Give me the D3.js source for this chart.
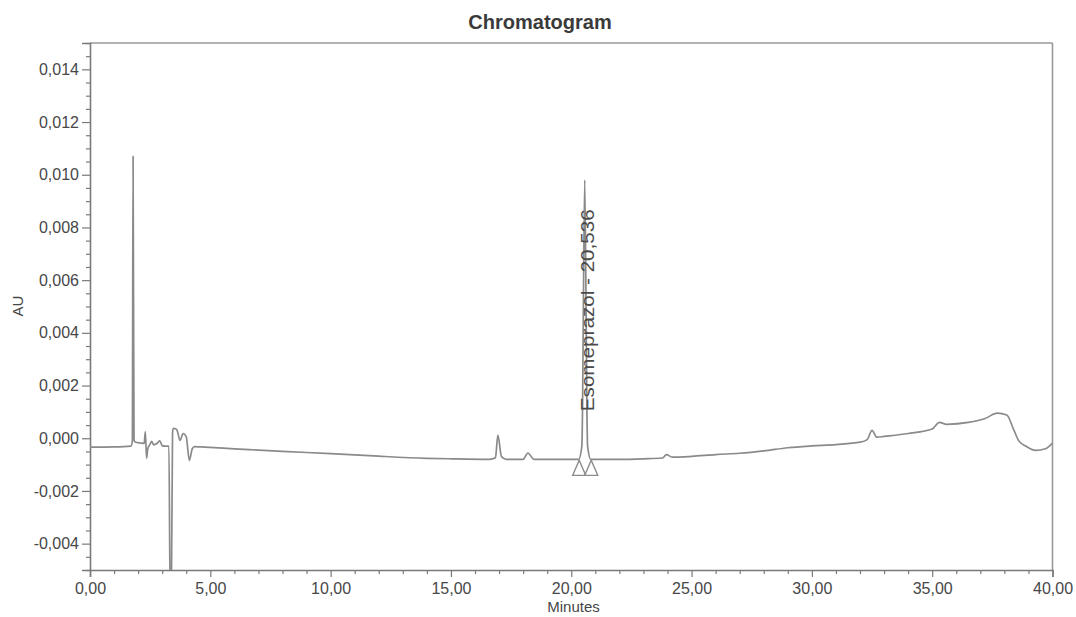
<!DOCTYPE html>
<html>
<head>
<meta charset="utf-8">
<script src="https://cdn.jsdelivr.net/npm/d3@7/dist/d3.min.js"></script>
<style>
  html, body { margin: 0; padding: 0; background: #fff; }
  svg { display: block; font-family: "Liberation Sans", Arial, sans-serif; }
</style>
</head>
<body>
<svg id="chart" width="1076" height="617"></svg>
<script>
// ---- data (time in minutes, absorbance in AU) ----
const chartTitle = "Chromatogram";
const xTitle = "Minutes";
const yTitle = "AU";
const xDomain = [0, 40];
const yDomain = [-0.005, 0.015];
const xMajorTicks = [0, 5, 10, 15, 20, 25, 30, 35, 40];
const yMajorTicks = [-0.004, -0.002, 0, 0.002, 0.004, 0.006, 0.008, 0.010, 0.012, 0.014];

const times = [
  0.00, 1.00, 1.70, 1.76, 1.79, 1.83, 1.90, 2.10, 2.25, 2.30, 2.35, 2.40, 2.50, 2.56, 2.65, 2.80, 2.90, 3.00, 3.10, 3.28,
  3.33, 3.38, 3.43, 3.46, 3.55, 3.62, 3.74, 3.87, 4.00, 4.13, 4.25, 4.35, 4.60, 6.00, 8.00, 10.00, 12.00, 14.00, 15.00, 16.60,
  16.85, 16.95, 17.10, 17.30, 18.00, 18.20, 18.45, 19.00, 20.31, 20.44, 20.47, 20.50, 20.56, 20.62, 20.65, 20.68,
  20.81, 22.00, 23.00, 23.80, 23.95, 24.20, 25.00, 26.00, 27.00, 28.00, 29.00, 30.00, 31.00, 32.00, 32.30, 32.50, 32.70, 33.00, 34.00, 35.00,
  35.30, 35.60, 36.50, 37.20, 37.70, 38.10, 38.40, 38.60, 38.90, 39.30, 39.70, 40.00
];
const absorbance = [
  -0.00034, -0.00033, -0.00030, -0.00010, 0.01070, -0.00008, -0.00015, -0.00018, -0.00020, 0.00025, -0.00076, -0.00040, -0.00022, -0.00012, -0.00025, -0.00018, -0.00010, -0.00028, -0.00030, -0.00030,
  -0.00600, -0.00600, 0.00020, 0.00038, 0.00036, 0.00030, -0.00008, 0.00018, 0.00005, -0.00084, -0.00040, -0.00032, -0.00033, -0.00040, -0.00050, -0.00058, -0.00068, -0.00076, -0.00078, -0.00080,
  -0.00074, 0.00012, -0.00070, -0.00080, -0.00080, -0.00056, -0.00080, -0.00080, -0.00080, -0.00030, 0.00120, 0.00450, 0.00980, 0.00450, 0.00120, -0.00030,
  -0.00080, -0.00080, -0.00078, -0.00075, -0.00062, -0.00072, -0.00069, -0.00062, -0.00057, -0.00048, -0.00036, -0.00029, -0.00024, -0.00015, -0.00005, 0.00030, 0.00004, 0.00007, 0.00018, 0.00035,
  0.00060, 0.00053, 0.00060, 0.00075, 0.00095, 0.00088, 0.00030, -0.00010, -0.00030, -0.00046, -0.00040, -0.00018
];

const peakName = "Esomeprazol - 20,536";
const peakTime = 20.56;
const peakMarkerTimes = [20.33, 20.83];
const peakMarkerLevel = -0.00080;

// ---- layout ----
const svg = d3.select("#chart");
const W = 1076, H = 617;
const margin = { left: 90, top: 43, right: W - 1052.5, bottom: H - 570 };
const x = d3.scaleLinear().domain(xDomain).range([margin.left, W - margin.right]);
const y = d3.scaleLinear().domain(yDomain).range([H - margin.bottom, margin.top]);

const textColor = "#474747";
const axisColor = "#7a7a7a";
const traceColor = "#8a8a8a";

const fmtX = v => d3.format(".2f")(v).replace(".", ",");
const fmtY = v => d3.format(".3f")(v).replace(".", ",").replace("\u2212", "-");

// minor ticks
const xMinor = d3.range(xDomain[0], xDomain[1] + 0.001, 1).filter(v => !xMajorTicks.includes(v));
const yMinor = d3.range(-0.005, 0.01501, 0.0005).map(v => +v.toFixed(4))
  .filter(v => !yMajorTicks.some(m => Math.abs(m - v) < 1e-9));

// frame (top & right)
svg.append("line").attr("x1", x(0)).attr("x2", x(40)).attr("y1", y(0.015)).attr("y2", y(0.015))
  .attr("stroke", "#999").attr("stroke-width", 1.6);
svg.append("line").attr("x1", x(40)).attr("x2", x(40)).attr("y1", y(0.015)).attr("y2", y(-0.005))
  .attr("stroke", "#999").attr("stroke-width", 1.6);

// x axis
const gx = svg.append("g").attr("transform", `translate(0,${y(-0.005)})`);
gx.call(d3.axisBottom(x).tickValues(xMajorTicks).tickSize(7).tickPadding(6).tickFormat(fmtX));
const gxm = svg.append("g").attr("transform", `translate(0,${y(-0.005)})`);
gxm.call(d3.axisBottom(x).tickValues(xMinor).tickSize(4).tickFormat(""));
gxm.select(".domain").remove();

// y axis
const gy = svg.append("g").attr("transform", `translate(${x(0)},0)`);
gy.call(d3.axisLeft(y).tickValues(yMajorTicks).tickSize(8).tickPadding(3).tickFormat(fmtY));
const gym = svg.append("g").attr("transform", `translate(${x(0)},0)`);
gym.call(d3.axisLeft(y).tickValues(yMinor).tickSize(4).tickFormat(""));
gym.select(".domain").remove();

svg.selectAll(".domain").attr("stroke", axisColor).attr("stroke-width", 1.6);
svg.selectAll(".tick line").attr("stroke", axisColor).attr("stroke-width", 1.2);
svg.selectAll(".tick text").attr("fill", textColor).attr("font-size", 16)
  .attr("font-family", "'Liberation Sans', Arial, sans-serif");

// clip
svg.append("clipPath").attr("id", "clip").append("rect")
  .attr("x", x(0)).attr("y", y(0.015)).attr("width", x(40) - x(0)).attr("height", y(-0.005) - y(0.015));

// trace
const pts = times.map((t, i) => [t, absorbance[i]]);
svg.append("path").datum(pts)
  .attr("clip-path", "url(#clip)")
  .attr("fill", "none").attr("stroke", traceColor).attr("stroke-width", 1.7)
  .attr("stroke-linejoin", "round")
  .attr("d", d3.line().curve(d3.curveMonotoneX).x(d => x(d[0])).y(d => y(d[1])));

// peak markers (outlined triangles)
svg.selectAll(".pm").data(peakMarkerTimes).enter().append("path")
  .attr("fill", "none").attr("stroke", "#8a8a8a").attr("stroke-width", 1.4)
  .attr("d", t => {
    const cx = x(t), top = y(peakMarkerLevel) + 1, bot = top + 15;
    return `M${cx},${top}L${cx - 6.5},${bot}L${cx + 6.5},${bot}Z`;
  });

// peak label
svg.append("text")
  .attr("transform", `translate(${x(peakTime) + 9},${y(-0.00015) - 31}) rotate(-90)`)
  .attr("fill", "#4a4a4a").attr("font-size", 18)
  .attr("textLength", 202).attr("lengthAdjust", "spacingAndGlyphs")
  .text(peakName);

// titles
svg.append("text").attr("x", 540).attr("y", 29).attr("text-anchor", "middle")
  .attr("font-weight", "bold").attr("font-size", 20).attr("fill", "#3a3a3a").text(chartTitle);
svg.append("text").attr("x", 573.5).attr("y", 612).attr("text-anchor", "middle")
  .attr("font-size", 15).attr("fill", textColor).text(xTitle);
svg.append("text").attr("transform", "translate(23,306) rotate(-90)").attr("text-anchor", "middle")
  .attr("font-size", 15).attr("fill", textColor).text(yTitle);
</script>
</body>
</html>
